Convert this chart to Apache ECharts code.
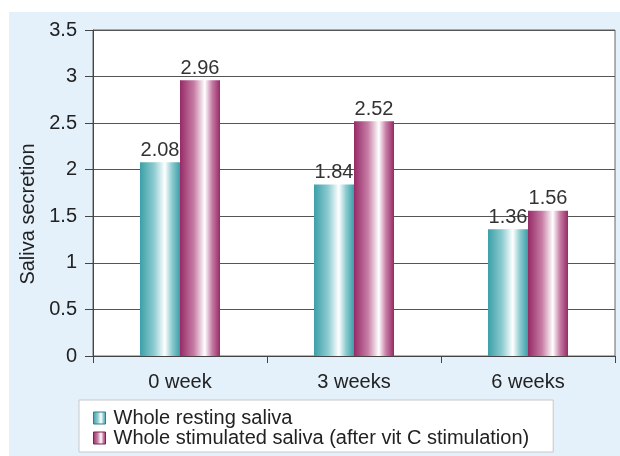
<!DOCTYPE html>
<html>
<head>
<meta charset="utf-8">
<script src="https://cdn.jsdelivr.net/npm/echarts@6/dist/echarts.min.js"></script>
<style>
  html, body { margin: 0; padding: 0; background: #fff; }
  #chart { width: 620px; height: 456px; }
</style>
</head>
<body>
<div id="chart"></div>
<script>
// data
const categories = ['0 week', '3 weeks', '6 weeks'];
const restingValues = [2.08, 1.84, 1.36];
const stimulatedValues = [2.96, 2.52, 1.56];
const seriesNames = ['Whole resting saliva', 'Whole stimulated saliva (after vit C stimulation)'];

// cylinder-like shading
function shade(edge, mid) {
  return new echarts.graphic.LinearGradient(0, 0, 1, 0, [
    {offset: 0, color: edge},
    {offset: 0.35, color: mid},
    {offset: 0.62, color: '#ffffff'},
    {offset: 0.8, color: mid},
    {offset: 1, color: edge}
  ]);
}

const chart = echarts.init(document.getElementById('chart'));
const label = {show: true, position: 'top', distance: 2, color: '#333', fontSize: 20, fontFamily: 'Liberation Sans'};

chart.setOption({
  backgroundColor: '#ffffff',
  animation: false,
  textStyle: {fontFamily: 'Liberation Sans'},
  graphic: [{
    type: 'rect', z: -10, silent: true,
    shape: {x: 9, y: 12, width: 611, height: 444},
    style: {fill: '#e4f1fa'}
  }],
  grid: {left: 93, right: 5, top: 30, bottom: 100, show: true, backgroundColor: '#fff', borderColor: '#666', borderWidth: 1},
  legend: {
    orient: 'vertical', left: 79, top: 400,
    itemWidth: 12, itemHeight: 12, itemGap: 0,
    icon: 'rect',
    padding: [8, 24, 4, 14],
    backgroundColor: '#fff', borderColor: '#c8c8c8', borderWidth: 1,
    textStyle: {fontSize: 20, lineHeight: 20, color: '#222', padding: [0, 0, 0, 3]},
    data: [
      {name: seriesNames[0], itemStyle: {borderColor: '#2f7f88', borderWidth: 1}},
      {name: seriesNames[1], itemStyle: {borderColor: '#7a2052', borderWidth: 1}}
    ]
  },
  xAxis: {
    type: 'category', data: categories,
    axisLine: {lineStyle: {color: '#444', width: 1}},
    axisTick: {show: true, length: 7, lineStyle: {color: '#444'}},
    axisLabel: {fontSize: 20, color: '#222', margin: 16},
    splitLine: {show: false}
  },
  yAxis: {
    type: 'value', min: 0, max: 3.5, interval: 0.5,
    name: 'Saliva secretion', nameLocation: 'middle', nameGap: 54, nameRotate: 90,
    nameTextStyle: {fontSize: 20, color: '#222', padding: [0, 42, 0, 0]},
    axisLine: {show: true, lineStyle: {color: '#444'}},
    axisTick: {show: true, length: 8, lineStyle: {color: '#444'}},
    axisLabel: {fontSize: 20, color: '#222', margin: 16},
    splitLine: {lineStyle: {color: '#555', width: 1}}
  },
  series: [
    {
      name: seriesNames[0], type: 'bar', data: restingValues,
      barWidth: 40, barGap: '0%',
      itemStyle: {color: shade('#3c9fa8', '#8ccbd0')},
      label: label
    },
    {
      name: seriesNames[1], type: 'bar', data: stimulatedValues,
      barWidth: 40,
      itemStyle: {color: shade('#962a66', '#c77da5')},
      label: label
    }
  ]
});
</script>
</body>
</html>
